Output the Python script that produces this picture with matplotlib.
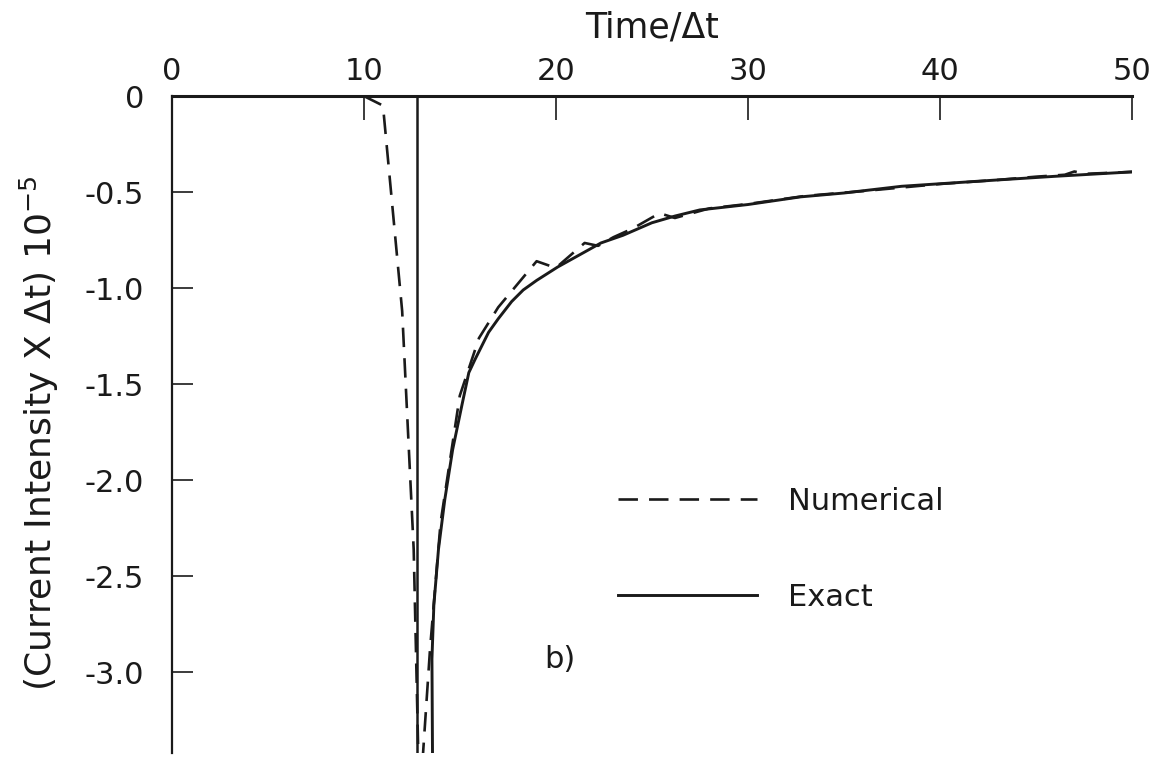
import matplotlib
matplotlib.use("Agg")
import matplotlib.pyplot as plt

plt.rcParams["font.family"] = ["DejaVu Sans"]
plt.rcParams["axes.unicode_minus"] = False
plt.rcParams["mathtext.default"] = "regular"
plt.rcParams["lines.scale_dashes"] = False

# Exact solution: a vertical step at step_time, then the decaying response
step_time = 12.75
exact_time = [13.59, 13.55, 13.65, 13.89, 14.22, 14.63, 15.13, 15.47, 15.8, 16.1,
              16.5, 17.0, 17.7, 18.3, 19.0, 20.1, 21.0, 22.35, 23.5, 25.0, 26.2,
              27.5, 30.0, 32.75, 35.0, 38.0, 43.0, 46.0, 50.0]
exact_value = [-3.60, -2.93, -2.65, -2.36, -2.10, -1.84, -1.60, -1.44, -1.37, -1.31,
               -1.23, -1.16, -1.07, -1.01, -0.96, -0.89, -0.84, -0.765, -0.725,
               -0.66, -0.625, -0.593, -0.565, -0.525, -0.505, -0.47, -0.437,
               -0.418, -0.395]

# Numerical solution
num_time = [10, 11, 12, 12.6, 12.9, 13.45, 14.0, 15.0, 16.0, 17.0, 18.0, 19.0,
            20.0, 21.5, 22.2, 23.0, 24.0, 25.4, 26.2, 28.0, 30.0, 33.0, 36.0,
            40.0, 43.0, 45.0, 46.5, 47.0, 47.6, 50.0]
num_value = [0.0, -0.05, -1.12, -2.36, -3.70, -2.88, -2.22, -1.56, -1.26, -1.10,
             -0.98, -0.86, -0.895, -0.765, -0.78, -0.735, -0.69, -0.61, -0.635,
             -0.585, -0.562, -0.52, -0.495, -0.458, -0.437, -0.42, -0.41, -0.393,
             -0.405, -0.395]

x_ticks = [0, 10, 20, 30, 40, 50]
y_ticks = [0, -0.5, -1.0, -1.5, -2.0, -2.5, -3.0]
y_tick_labels = ["0", "-0.5", "-1.0", "-1.5", "-2.0", "-2.5", "-3.0"]

fig = plt.figure(figsize=(11.71, 7.61), dpi=100)
ax = fig.add_axes([171.7 / 1171, 8 / 761, (1132 - 171.7) / 1171, (753 - 96) / 761])

ink = "#1a1a1a"
num_line, = ax.plot(num_time, num_value, color=ink, lw=1.9, ls=(0, (14, 8)),
                    label="Numerical")
exact_line, = ax.plot(exact_time, exact_value, color=ink, lw=2.1, label="Exact")
ax.axvline(step_time, color=ink, lw=1.8)

ax.set_xlim(0, 50)
ax.set_ylim(-3.42, 0)

for side in ("right", "bottom"):
    ax.spines[side].set_visible(False)
ax.spines["top"].set_linewidth(2.2)
ax.spines["left"].set_linewidth(1.6)
ax.spines["top"].set_color(ink)
ax.spines["left"].set_color(ink)

ax.xaxis.set_ticks_position("top")
ax.xaxis.set_label_position("top")
ax.set_xticks(x_ticks)
ax.set_xticklabels([str(v) for v in x_ticks])
ax.set_yticks(y_ticks)
ax.set_yticklabels(y_tick_labels)
ax.tick_params(axis="x", direction="in", length=17, width=1.2, pad=7,
               labelsize=22, colors=ink)
ax.tick_params(axis="y", direction="in", length=15, width=1.2, pad=20,
               labelsize=22, colors=ink)

ax.set_xlabel("Time/\u0394t", fontsize=25, labelpad=14, color=ink)
fig.text(39 / 1171, 1 - 433 / 761, "(Current Intensity X \u0394t) 10$^{-5}$",
         rotation=90, ha="center", va="center", fontsize=26, color=ink)

ax.legend(handles=[num_line, exact_line], loc="upper left",
          bbox_to_anchor=(0.4648, 0.405), frameon=False, fontsize=22,
          handlelength=4.55, handletextpad=1.0, labelspacing=2.2,
          borderpad=0, borderaxespad=0, labelcolor=ink)

ax.text(0.404, 0.1416, "b)", transform=ax.transAxes, fontsize=22,
        ha="center", va="center", color=ink)

fig.savefig("out.png", dpi=100, facecolor="white")
